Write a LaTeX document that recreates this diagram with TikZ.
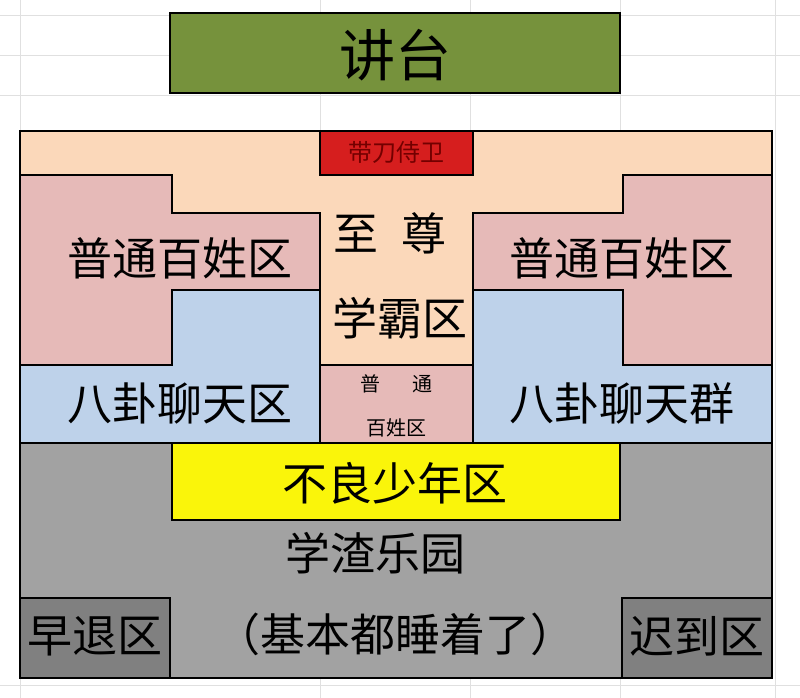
\documentclass[tikz,border=0pt]{standalone}
\usepackage{fontspec}
\setmainfont{Noto Sans CJK SC}
\usetikzlibrary{positioning}
\definecolor{podium}{RGB}{118,146,60}
\definecolor{peach}{RGB}{251,216,186}
\definecolor{rose}{RGB}{230,186,184}
\definecolor{sky}{RGB}{190,210,234}
\definecolor{guard}{RGB}{214,30,30}
\definecolor{slate}{RGB}{162,162,162}
\definecolor{dslate}{RGB}{128,128,128}
\definecolor{lemon}{RGB}{250,245,10}
\tikzset{
	%Define style for zones
	zone/.style={draw=black, line width=2pt},
	lbl/.style={font=\fontsize{45}{48}\selectfont, inner sep=0pt},
	small/.style={font=\fontsize{20}{22}\selectfont, inner sep=0pt},
	grid/.style={draw=black!12, thin}
}
\begin{document}
\begin{tikzpicture}[x=1pt, y=-1pt]
	\useasboundingbox (0,0) rectangle (800,698);
	\fill[white] (0,0) rectangle (800,698);
	% spreadsheet grid
	\foreach \gx in {20,320,470,620,775}
		\draw[grid] (\gx,0) -- (\gx,698);
	\foreach \gy in {15,55,95,685}
		\draw[grid] (0,\gy) -- (800,\gy);
	% podium
	\draw[zone, fill=podium] (170,13) rectangle (620,93);
	\node[font=\fontsize{56}{60}\selectfont] (podium) at (395,55) {讲台};
	% classroom
	\draw[zone, fill=peach] (20,131) rectangle (772,678);
	\draw[zone, fill=guard] (320,131) rectangle (473,175);
	\node[small, font=\fontsize{24}{26}\selectfont, text=red!45!black] (guard) at (396,152) {带刀侍卫};
	% left side
	\draw[zone, fill=rose] (20,175) -- (172,175) -- (172,213) -- (320,213) -- (320,290)
		-- (172,290) -- (172,365) -- (20,365) -- cycle;
	\draw[zone, fill=sky] (172,290) -- (320,290) -- (320,443) -- (20,443) -- (20,365)
		-- (172,365) -- cycle;
	% right side
	\draw[zone, fill=rose] (772,175) -- (623,175) -- (623,213) -- (473,213) -- (473,290)
		-- (623,290) -- (623,365) -- (772,365) -- cycle;
	\draw[zone, fill=sky] (623,290) -- (473,290) -- (473,443) -- (772,443) -- (772,365)
		-- (623,365) -- cycle;
	% centre
	\draw[zone] (320,213) -- (320,443);
	\draw[zone] (473,213) -- (473,443);
	\draw[zone, fill=rose] (320,365) rectangle (473,443);
	% back rows
	\draw[zone, fill=slate] (20,443) rectangle (772,678);
	\draw[zone, fill=lemon] (172,443) rectangle (620,520);
	\draw[zone, fill=dslate] (20,598) rectangle (170,678);
	\draw[zone, fill=dslate] (622,598) rectangle (772,678);
	% labels
	\node[lbl] (commonL) at (180,258) {普通百姓区};
	\node[lbl] (commonR) at (622,258) {普通百姓区};
	\node[lbl] (gossipL) at (180,403) {八卦聊天区};
	\node[lbl] (gossipR) at (622,403) {八卦聊天群};
	\node[lbl] (top1) at (390,233) {至\hspace{0.5em}尊};
	\node[lbl] (top2) at (400,318) {学霸区};
	\node[small] (mid1) at (396,384) {普\hspace{1.6em}通};
	\node[small] (mid2) at (396,428) {百姓区};
	\node[lbl] (bad) at (395,483) {不良少年区};
	\node[lbl] (paradise) at (375,553) {学渣乐园};
	\node[lbl] (sleep) at (395,634) {（基本都睡着了）};
	\node[lbl] (early) at (95,636) {早退区};
	\node[lbl] (late) at (697,636) {迟到区};
\end{tikzpicture}
\end{document}
